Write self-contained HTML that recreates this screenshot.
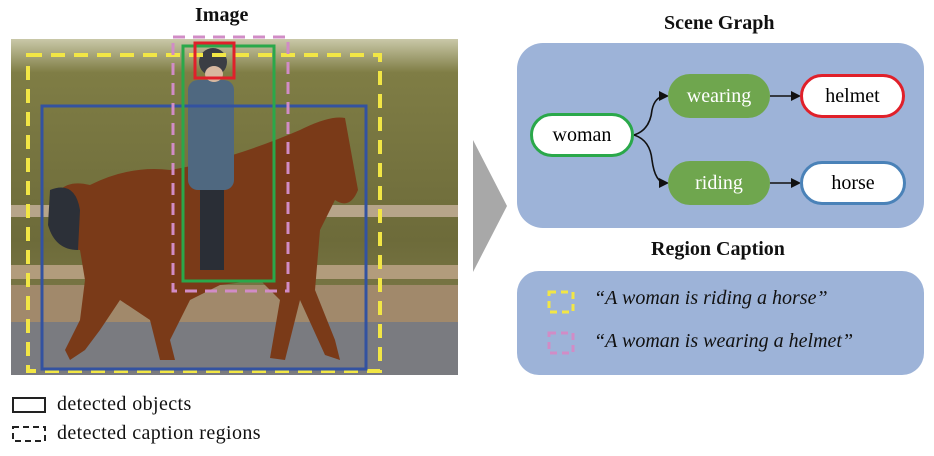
<!DOCTYPE html>
<html><head><style>
body{margin:0;width:934px;height:456px;background:#fff;position:relative;overflow:hidden;font-family:"Liberation Serif",serif;}
.a{position:absolute}
.t{font-weight:bold;font-size:20px;color:#111}
.node{position:absolute;border-radius:24px;display:flex;align-items:center;justify-content:center;font-size:20px;box-sizing:border-box}
</style></head><body>
<div class="a t" style="left:195px;top:4px">Image</div>
<div class="a t" style="left:664px;top:12px">Scene Graph</div>
<div class="a t" style="left:651px;top:238px">Region Caption</div>

<svg class="a" style="left:0;top:0" width="934" height="456">
<defs>
<linearGradient id="hedge" x1="0" y1="0" x2="0" y2="1">
<stop offset="0" stop-color="#c9c8a8"/><stop offset="0.1" stop-color="#7f7d45"/><stop offset="0.6" stop-color="#6d6b3a"/><stop offset="1" stop-color="#8a8554"/></linearGradient>
</defs>
<rect x="11" y="39" width="447" height="336" fill="url(#hedge)"/>
<rect x="11" y="205" width="447" height="12" fill="#b7a58a"/>
<rect x="11" y="265" width="447" height="14" fill="#b29c7c"/>
<rect x="11" y="285" width="447" height="40" fill="#a1896b"/>
<rect x="11" y="322" width="447" height="53" fill="#7a7b80"/>
<path d="M60 190 Q70 180 90 185 Q130 165 170 170 Q230 160 300 130 Q330 115 345 118 L358 190 Q350 210 335 200 L320 230 L315 290 L335 340 L340 360 L325 355 L300 300 L290 340 L285 360 L270 358 L280 300 L260 280 L220 285 L190 300 L170 340 L175 360 L160 360 L150 320 L120 300 L100 330 L85 350 L70 360 L65 350 L80 320 L85 280 L80 250 Q60 250 55 230 Z" fill="#7a3a18"/>
<path d="M50 190 Q75 180 80 210 L78 250 Q55 250 48 225 Z" fill="#2c3038"/>
<rect x="188" y="80" width="46" height="110" rx="10" fill="#4f6880"/>
<rect x="200" y="190" width="24" height="80" fill="#2a2e36"/>
<ellipse cx="213" cy="62" rx="14" ry="14" fill="#3b3e44"/>
<ellipse cx="214" cy="74" rx="9" ry="8" fill="#d8b8a0"/>
<rect x="28" y="55" width="352" height="316" fill="none" stroke="#f2e645" stroke-width="4" stroke-dasharray="14,9"/>
<rect x="42" y="106" width="324" height="263" fill="none" stroke="#3352a0" stroke-width="3"/>
<rect x="173" y="37" width="115" height="254" fill="none" stroke="#d18cc6" stroke-width="3" stroke-dasharray="12,8"/>
<rect x="183" y="46" width="91" height="235" fill="none" stroke="#2aa84a" stroke-width="3"/>
<rect x="195" y="43" width="39" height="35" fill="none" stroke="#e0202a" stroke-width="3"/>
<rect x="13" y="398" width="32" height="14" fill="none" stroke="#222" stroke-width="2"/>
<rect x="13" y="427" width="32" height="14" fill="none" stroke="#222" stroke-width="2" stroke-dasharray="6,4"/>
<polygon points="473,140 473,272 507,206" fill="#a8a8a8"/>
<rect x="517" y="43" width="407" height="185" rx="26" fill="#9db3d8"/>
<rect x="517" y="271" width="407" height="104" rx="22" fill="#9db3d8"/>
<g stroke="#111" stroke-width="1.6" fill="none">
<path d="M634 135 Q650 130 652 110 Q655 96 666 96"/>
<path d="M634 135 Q650 140 652 160 Q655 183 666 183"/>
<line x1="770" y1="96" x2="798" y2="96"/>
<line x1="770" y1="183" x2="798" y2="183"/>
</g>
<g fill="#111">
<polygon points="669,96 659,91 659,101"/>
<polygon points="669,183 659,178 659,188"/>
<polygon points="801,96 791,91 791,101"/>
<polygon points="801,183 791,178 791,188"/>
</g>
<rect x="549" y="292" width="24" height="20" fill="none" stroke="#f2e645" stroke-width="3" stroke-dasharray="7,5"/>
<rect x="549" y="333" width="24" height="20" fill="none" stroke="#d18cc6" stroke-width="3" stroke-dasharray="7,5"/>
</svg>

<div class="node" style="left:530px;top:113px;width:104px;height:44px;background:#fff;border:3px solid #2aa84a">woman</div>
<div class="node" style="left:668px;top:74px;width:102px;height:44px;background:#6fa64e;color:#fff">wearing</div>
<div class="node" style="left:800px;top:74px;width:105px;height:44px;background:#fff;border:3px solid #e0202a">helmet</div>
<div class="node" style="left:668px;top:161px;width:102px;height:44px;background:#6fa64e;color:#fff">riding</div>
<div class="node" style="left:800px;top:161px;width:106px;height:44px;background:#fff;border:3px solid #4a82b8">horse</div>

<div class="a" style="left:594px;top:287px;font-size:20px;font-style:italic;color:#111">“A woman is riding a horse”</div>
<div class="a" style="left:594px;top:330px;font-size:20px;font-style:italic;color:#111">“A woman is wearing a helmet”</div>
<div class="a" style="left:57px;top:393px;font-size:20px;letter-spacing:0.4px;color:#111">detected objects</div>
<div class="a" style="left:57px;top:422px;font-size:20px;letter-spacing:0.4px;color:#111">detected caption regions</div>
</body></html>
